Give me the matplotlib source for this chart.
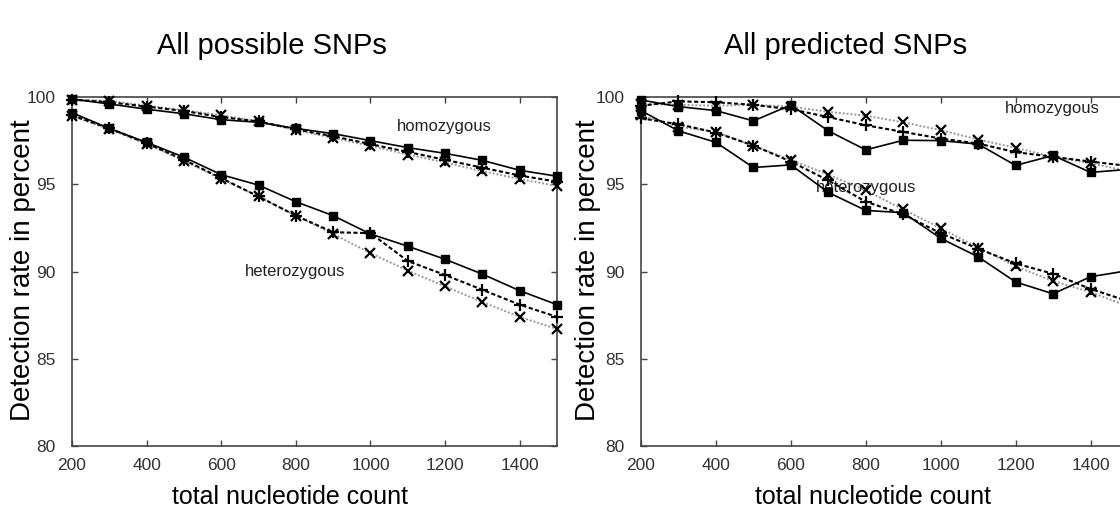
import numpy as np
import matplotlib
matplotlib.use("Agg")
import matplotlib.pyplot as plt

plt.rcParams['font.family'] = ['Liberation Sans', 'DejaVu Sans']

counts = [200, 300, 400, 500, 600, 700, 800, 900, 1000, 1100, 1200, 1300, 1400, 1500]

# All possible SNPs
poss_homo_sq = [99.88, 99.6, 99.3, 99.04, 98.7, 98.55, 98.2, 97.9, 97.5, 97.1, 96.77, 96.37, 95.8, 95.46]
poss_homo_plus = [99.85, 99.7, 99.45, 99.2, 98.85, 98.6, 98.15, 97.75, 97.3, 96.85, 96.4, 95.95, 95.5, 95.15]
poss_homo_x = [99.85, 99.78, 99.5, 99.25, 98.95, 98.6, 98.1, 97.65, 97.2, 96.7, 96.25, 95.75, 95.3, 94.9]
poss_het_sq = [99.1, 98.2, 97.4, 96.55, 95.55, 94.95, 94.0, 93.2, 92.15, 91.45, 90.7, 89.85, 88.9, 88.1]
poss_het_plus = [98.95, 98.2, 97.35, 96.4, 95.35, 94.3, 93.2, 92.25, 92.2, 90.6, 89.8, 88.95, 88.1, 87.4]
poss_het_x = [98.9, 98.15, 97.3, 96.35, 95.3, 94.3, 93.2, 92.15, 91.05, 90.05, 89.15, 88.25, 87.4, 86.7]

# All predicted SNPs
pred_homo_sq = [99.83, 99.45, 99.22, 98.63, 99.54, 98.06, 96.97, 97.52, 97.5, 97.3, 96.08, 96.65, 95.68, 95.85]
pred_homo_plus = [99.5, 99.75, 99.7, 99.55, 99.3, 98.85, 98.38, 98.0, 97.62, 97.33, 96.84, 96.57, 96.3, 96.05]
pred_homo_x = [99.6, 99.55, 99.5, 99.55, 99.45, 99.15, 98.93, 98.55, 98.1, 97.56, 97.09, 96.57, 96.2, 95.75]
pred_het_sq = [99.22, 98.06, 97.4, 95.96, 96.11, 94.53, 93.5, 93.37, 91.9, 90.84, 89.4, 88.72, 89.7, 90.05]
pred_het_plus = [98.78, 98.44, 97.96, 97.22, 96.3, 95.22, 94.0, 93.28, 92.19, 91.31, 90.46, 89.87, 89.0, 88.3]
pred_het_x = [98.95, 98.3, 98.0, 97.2, 96.4, 95.55, 94.65, 93.56, 92.48, 91.37, 90.3, 89.45, 88.82, 88.0]

W, H = 1120, 516
fig = plt.figure(figsize=(W / 100, H / 100), dpi=100)

ax_l = fig.add_axes([72 / W, (H - 446) / H, 485 / W, 349 / H])
ax_r = fig.add_axes([641 / W, (H - 446) / H, 487 / W, 349 / H])


def draw_panel(ax, homo, het):
    for sq, plus, xs in (homo, het):
        ax.plot(counts, xs, color='#999999', lw=1.4, ls=(0, (1, 1)),
                marker='x', ms=7, mew=1.6, mec='black', clip_on=False, zorder=3)
        ax.plot(counts, plus, color='black', lw=1.5, ls=(0, (2, 1.2)),
                marker='+', ms=8, mew=1.6, clip_on=False, zorder=4)
        ax.plot(counts, sq, color='black', lw=1.2, ls='-',
                marker='s', ms=5.5, clip_on=False, zorder=5)
    ax.set_xlim(200, 1500)
    ax.set_ylim(80, 100)
    ax.set_xticks([200, 400, 600, 800, 1000, 1200, 1400])
    ax.set_yticks([80, 85, 90, 95, 100])
    ax.tick_params(direction='in', length=4, width=1, top=True, right=True,
                   labelsize=12.5, labelcolor='#333333', color='#444444')
    ax.tick_params(axis='x', pad=9)
    ax.tick_params(axis='y', pad=12)
    for sp in ax.spines.values():
        sp.set_color('#444444')
        sp.set_linewidth(1.2)


draw_panel(ax_l, (poss_homo_sq, poss_homo_plus, poss_homo_x),
           (poss_het_sq, poss_het_plus, poss_het_x))
draw_panel(ax_r, (pred_homo_sq, pred_homo_plus, pred_homo_x),
           (pred_het_sq, pred_het_plus, pred_het_x))

ax_l.text(1198, 98.3, 'homozygous', ha='center', va='center', fontsize=12, color='#222222')
ax_l.text(797, 90.0, 'heterozygous', ha='center', va='center', fontsize=12, color='#222222')
ax_r.text(1299, 99.33, 'homozygous', ha='center', va='center', fontsize=12, color='#222222')
ax_r.text(800, 94.8, 'heterozygous', ha='center', va='center', fontsize=12, color='#222222')

fig.text(272 / W, 1 - 46 / H, 'All possible SNPs', ha='center', va='center', fontsize=21)
fig.text(846 / W, 1 - 46 / H, 'All predicted SNPs', ha='center', va='center', fontsize=21)

fig.text(23 / W, 1 - 270 / H, 'Detection rate in percent', rotation=90,
         ha='center', va='center', fontsize=20)
fig.text(588 / W, 1 - 270 / H, 'Detection rate in percent', rotation=90,
         ha='center', va='center', fontsize=20)

fig.text(290 / W, 1 - 497 / H, 'total nucleotide count', ha='center', va='center', fontsize=18)
fig.text(873 / W, 1 - 497 / H, 'total nucleotide count', ha='center', va='center', fontsize=18)

fig.savefig('out.png', dpi=100)
